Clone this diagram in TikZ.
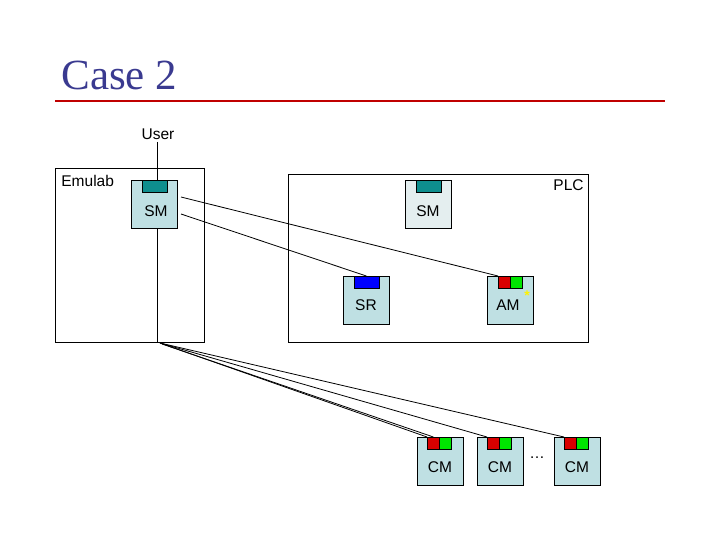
\documentclass[tikz,border=0pt]{standalone}
\usepackage{fontspec}
\setmainfont{Liberation Sans}
\newfontfamily\titlefont{Liberation Serif}
\definecolor{boxfill}{HTML}{BFE0E3}
\definecolor{dotfill}{HTML}{E4EEEF}
\definecolor{teal2}{HTML}{0E8E8E}
\definecolor{titlec}{HTML}{3A3A90}
\definecolor{redl}{HTML}{C00000}
\tikzset{
 every path/.style={line width=0.8pt},
 comp/.style={draw=black,fill=boxfill,minimum width=46pt,minimum height=48pt,inner sep=0pt},
 tab/.style={draw=black,minimum width=12pt,minimum height=12pt,inner sep=0pt},
 lbl/.style={font=\fontsize{15.5}{18}\selectfont,inner sep=0pt},
 frame/.style={draw=black,fill=none}
}
\begin{document}
\begin{tikzpicture}[x=1pt,y=-1pt]
\useasboundingbox (0,0) rectangle (720,540);
\node[anchor=base west,text=titlec,font=\titlefont\fontsize{43}{46}\selectfont,inner sep=0pt] (title) at (61,90) {Case 2};
\draw[redl,line width=1.5pt] (55,101) -- (665,101);
\node[lbl] (user) at (158,134) {User};
\draw[frame] (55,168) rectangle (204,342);
\node[lbl,anchor=north west] (emu) at (61,175) {Emulab};
\draw[frame] (288,174) rectangle (588,342);
\node[lbl,anchor=north east] (plc) at (584,179) {PLC};
% SM emulab
\node[comp,anchor=north west] (sm) at (131,180) {};
\node[draw,fill=teal2,minimum width=25pt,minimum height=12pt,inner sep=0pt,anchor=north] (smt) at (sm.north) {};
\node[lbl] at (156,211) {SM};
\coordinate (ut) at (157,142);
\coordinate (ub) at (157,342);
\draw (ut) -- (smt.north -| ut);
\draw (sm.south -| ut) -- (ub);
% SM plc
\node[comp,anchor=north west,fill=dotfill] (sm2) at (405,180) {};
\node[draw,fill=teal2,minimum width=25pt,minimum height=12pt,inner sep=0pt,anchor=north] (sm2t) at (sm2.north) {};
\node[lbl] at (428,211) {SM};
% SR
\node[comp,anchor=north west] (sr) at (343,276) {};
\node[draw,fill=blue,minimum width=25pt,minimum height=12pt,inner sep=0pt,anchor=north] (srt) at (sr.north) {};
\node[lbl] at (366,305) {SR};
% AM
\node[comp,anchor=north west] (am) at (487,276) {};
\node[tab,fill=red!85!black,anchor=north west] (amr) at (498,276) {};
\node[tab,fill=green!90!black,anchor=north west] (amg) at (510,276) {};
\node[lbl] at (508,305) {AM};
\node[text=yellow,font=\fontsize{14}{14}\selectfont\bfseries,inner sep=0pt] (star) at (527,296) {*};
\coordinate (s1) at (181,197);
\coordinate (s2) at (181,214);
\draw (s1) -- (amr.north west);
\draw (s2) -- (srt.north);
% CMs
\foreach \n/\x in {a/417,b/477,c/554}{
 \node[comp,anchor=north west] (cm\n) at (\x,437) {};
 \node[tab,fill=red!85!black,anchor=north west] (cm\n r) at (\x+10,437) {};
 \node[tab,fill=green!90!black,anchor=north west] (cm\n g) at (\x+22,437) {};
 \node[lbl] at (\x+23,467) {CM};
}
\node[lbl] (dots) at (537,458) {\dots};
\coordinate (u1) at (160,343);
\coordinate (u2) at (162,344);
\draw (u1) -- (cmar.north west);
\draw (u2) -- (cmar.north);
\draw (u1) -- (cmbr.north west);
\draw (u1) -- (cmcr.north west);
\end{tikzpicture}
\end{document}
